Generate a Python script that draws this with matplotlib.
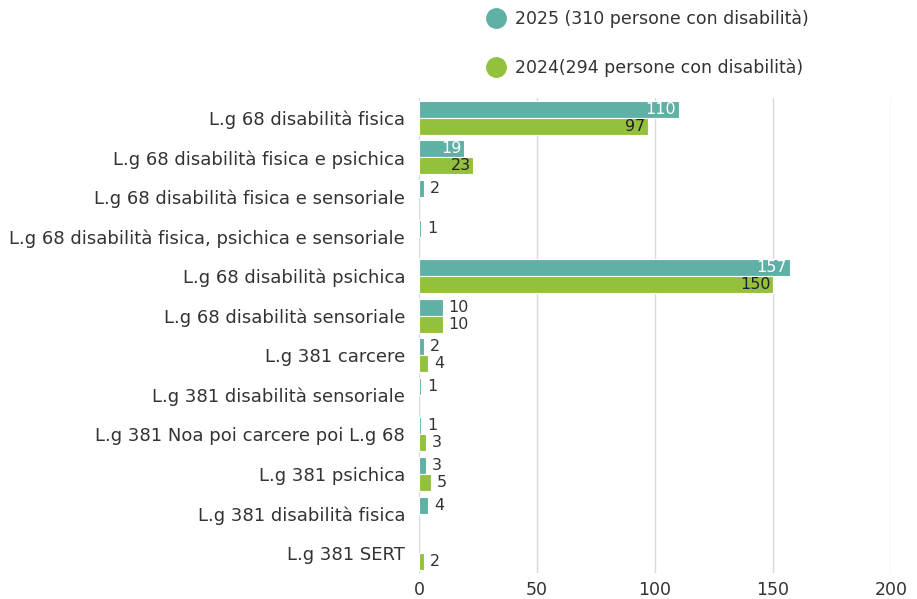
import matplotlib
matplotlib.use("Agg")
import matplotlib.pyplot as plt
import numpy as np
from matplotlib.lines import Line2D

categories = [
    "L.g 68 disabilità fisica",
    "L.g 68 disabilità fisica e psichica",
    "L.g 68 disabilità fisica e sensoriale",
    "L.g 68 disabilità fisica, psichica e sensoriale",
    "L.g 68 disabilità psichica",
    "L.g 68 disabilità sensoriale",
    "L.g 381 carcere",
    "L.g 381 disabilità sensoriale",
    "L.g 381 Noa poi carcere poi L.g 68",
    "L.g 381 psichica",
    "L.g 381 disabilità fisica",
    "L.g 381 SERT",
]
values_2025 = [110, 19, 2, 1, 157, 10, 2, 1, 1, 3, 4, None]
values_2024 = [97, 23, None, None, 150, 10, 4, None, 3, 5, None, 2]
series_labels = ["2025 (310 persone con disabilità)", "2024(294 persone con disabilità)"]
xticks = [0, 50, 100, 150, 200]

col_2025 = "#5fb0a5"
col_2024 = "#93c13e"
text_col = "#333333"

plt.rcParams['font.family'] = ['DejaVu Sans']

fig = plt.figure(figsize=(9.17, 5.99), dpi=100)
ax = fig.add_axes([419/917, 1-573/599, (891-419)/917, (573-98)/599])

n = len(categories)
y = np.arange(n)
bh = 0.43
inside_threshold = 15

def draw(vals, offset, color, inside_color):
    for i, v in enumerate(vals):
        if v is None:
            continue
        yy = y[i] + offset
        ax.barh(yy, v, height=bh, color=color, edgecolor="white", linewidth=0.8, zorder=3)
        if v >= inside_threshold:
            ax.text(v - 1, yy, str(v), ha="right", va="center", fontsize=11.5,
                    color=inside_color, zorder=4)
        else:
            ax.text(v + 2.5, yy, str(v), ha="left", va="center", fontsize=11.5,
                    color=text_col, zorder=4)

draw(values_2025, -bh/2, col_2025, "white")
draw(values_2024, bh/2, col_2024, "#222222")

ax.set_ylim(n - 0.5, -0.5)
ax.set_xlim(0, 200)
ax.set_yticks(y)
ax.set_yticklabels(categories, fontsize=13, color=text_col)
ax.set_xticks(xticks)
ax.set_xticklabels([str(t) for t in xticks], fontsize=12.5, color=text_col)
ax.tick_params(axis="both", length=0)
ax.tick_params(axis="y", pad=10)
ax.tick_params(axis="x", pad=6)
for s in ax.spines.values():
    s.set_visible(False)
ax.grid(axis="x", color="#d9d9d9", linewidth=1, zorder=0)
ax.set_axisbelow(True)

handles = [Line2D([], [], marker="o", linestyle="", markersize=14, color=col_2025),
           Line2D([], [], marker="o", linestyle="", markersize=14, color=col_2024)]
leg = fig.legend(handles, series_labels, loc="upper left", bbox_to_anchor=(467/917, 1.01),
                 frameon=False, fontsize=12.5, labelspacing=1.75, handletextpad=0.35,
                 handlelength=1.5, labelcolor=text_col)

fig.savefig("out.png", dpi=100)
